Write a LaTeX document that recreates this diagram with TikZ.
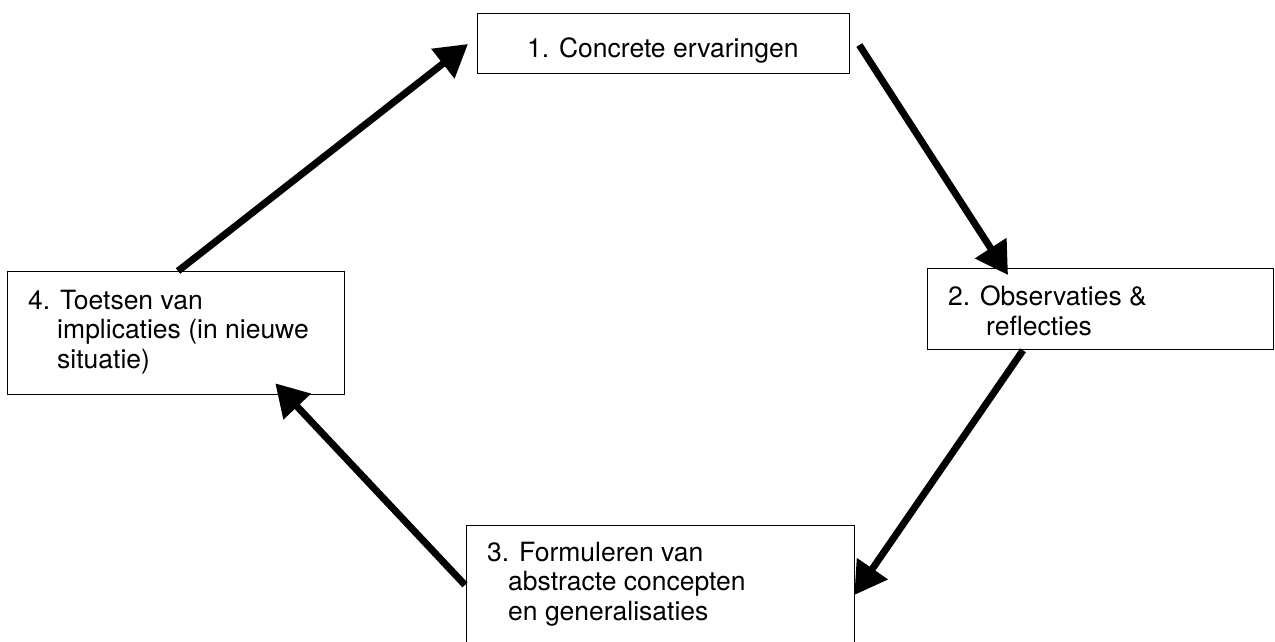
\documentclass[tikz,border=0pt]{standalone}
\usepackage{fontspec}
\setmainfont{TeX Gyre Heros}
\usetikzlibrary{arrows.meta}
\begin{document}
\begin{tikzpicture}[x=1pt,y=-1pt,
  box/.style={draw=black, line width=1.3pt, rectangle, inner sep=0pt, anchor=north west},
  txt/.style={inner sep=0pt, anchor=base west, align=left, font=\fontsize{26.5}{29.5}\selectfont},
  arr/.style={line width=7pt, -{Triangle[length=32pt,width=36pt]}}]
\useasboundingbox (0,0) rectangle (1275,641);
\clip (0,0) rectangle (1275,641);
\node[box, minimum width=372pt, minimum height=60pt] (b1) at (477,13) {};
\node[box, minimum width=346pt, minimum height=81pt] (b2) at (927,268) {};
\node[box, minimum width=388pt, minimum height=140pt] (b3) at (466,525) {};
\node[box, minimum width=337pt, minimum height=123pt] (b4) at (7,271) {};
\node[txt] (t1) at (527,57) {1. Concrete ervaringen};
\node[txt] (t2) at (948,335) {2. Observaties \&\\\hspace*{38pt}reflecties};
\node[txt] (t3) at (487,620) {3. Formuleren van\\\hspace*{21pt}abstracte concepten\\\hspace*{21pt}en generalisaties};
\node[txt] (t4) at (28,368) {4. Toetsen van\\\hspace*{29pt}implicaties (in nieuwe\\\hspace*{29pt}situatie)};
\draw[arr] ([xshift=171pt]b4.north west) -- ([xshift=-9pt,yshift=-31pt]b1.north west);
\draw[arr] ([xshift=9pt,yshift=-32pt]b1.north east) -- ([xshift=81pt,yshift=-7pt]b2.north west);
\draw[arr] ([xshift=96pt]b2.south west) -- ([xshift=-1pt,yshift=-70pt]b3.north east);
\draw[arr] ([xshift=-1pt,yshift=-60pt]b3.north west) -- ([xshift=-70pt,yshift=12pt]b4.south east);
\end{tikzpicture}
\end{document}
